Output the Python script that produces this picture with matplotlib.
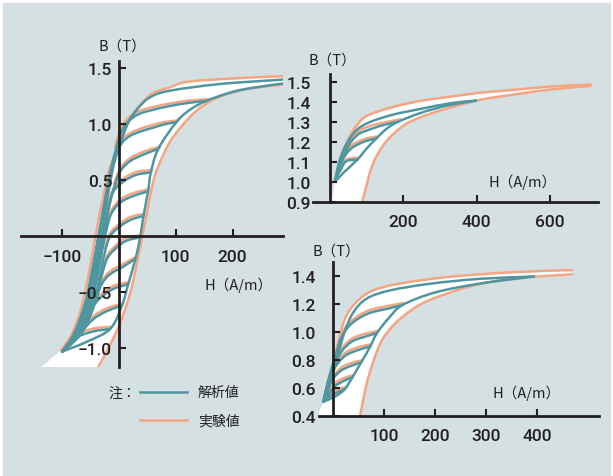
import numpy as np
import matplotlib.pyplot as plt
from matplotlib.lines import Line2D
from matplotlib.patches import Rectangle, PathPatch
from matplotlib.path import Path

plt.rcParams['font.family'] = ['Roboto', 'Noto Sans CJK JP']
plt.rcParams['axes.unicode_minus'] = True

W, HP = 613, 477
teal = '#4e96a0'
orange = '#f5a582'
ink = '#231f20'
bg = '#d5e0e2'
cjk = ['Noto Sans CJK JP', 'DejaVu Sans']

################################################################################
# Main loop (left) : H [A/m], B [T]
main_exp_desc_H = [289, 200, 120, 89, 60, 40, 22, 8, -4, -18, -28, -38, -45, -52, -60, -70, -82, -93, -103]
main_exp_desc_B = [1.43, 1.41, 1.38, 1.33, 1.28, 1.19, 1.07, 0.93, 0.78, 0.58, 0.35, 0.10, -0.10, -0.30, -0.50, -0.70, -0.86, -0.96, -1.02]
main_exp_asc_H = [-37, -24, -12, 0, 10, 20, 29, 35, 41, 48, 55, 63, 72, 89, 113, 136, 162, 190, 230, 289]
main_exp_asc_B = [-1.17, -1.05, -0.93, -0.80, -0.66, -0.50, -0.30, -0.15, 0.0, 0.18, 0.37, 0.54, 0.66, 0.84, 1.0, 1.12, 1.21, 1.27, 1.32, 1.355]
main_fill_corner = (-137, -1.17)

main_ana_desc_H = [289, 177, 89, 54, 31, 16, 5, -7, -16, -24, -33, -40, -47, -55, -65, -78, -90, -100]
main_ana_desc_B = [1.40, 1.36, 1.30, 1.24, 1.13, 1.015, 0.87, 0.69, 0.54, 0.33, 0.08, -0.12, -0.33, -0.55, -0.74, -0.89, -0.98, -1.03]
main_ana_asc_H = [-100, -60, -16, 5, 16, 29, 37, 43, 51, 56, 69, 101, 125, 154, 200, 240, 289]
main_ana_asc_B = [-1.03, -0.95, -0.83, -0.62, -0.43, -0.20, -0.01, 0.18, 0.40, 0.57, 0.78, 1.02, 1.13, 1.21, 1.29, 1.33, 1.365]

# descending branches from each reversal point back to (-100, -1.03)
main_minor_H = [
    [154, 120, 89, 60, 34, 15, 3, -6, -15, -24, -33, -41, -49, -58, -71, -86, -100],
    [101, 80, 60, 37, 19, 6, -4, -12, -20, -28, -36, -44, -54, -68, -84, -100],
    [69, 43, 19, 2, -8, -16, -24, -32, -41, -51, -65, -82, -100],
    [56, 31, 8, -10, -19, -27, -34, -42, -51, -65, -82, -100],
    [51, 25, 2, -14, -23, -31, -39, -49, -63, -81, -100],
    [43, 22, 2, -16, -25, -33, -43, -58, -78, -100],
    [37, 13, -4, -20, -29, -38, -50, -68, -100],
    [29, 8, -16, -31, -41, -53, -70, -100],
    [16, -10, -33, -49, -62, -78, -100],
    [5, -22, -45, -66, -84, -100],
    [-16, -45, -74, -90, -100],
]
main_minor_B = [
    [1.21, 1.19, 1.163, 1.13, 1.09, 1.02, 0.92, 0.77, 0.58, 0.35, 0.10, -0.12, -0.34, -0.56, -0.77, -0.93, -1.03],
    [1.02, 1.0, 0.97, 0.935, 0.896, 0.84, 0.75, 0.58, 0.36, 0.11, -0.12, -0.34, -0.57, -0.78, -0.93, -1.03],
    [0.78, 0.73, 0.67, 0.58, 0.45, 0.30, 0.10, -0.12, -0.35, -0.57, -0.78, -0.93, -1.03],
    [0.57, 0.55, 0.49, 0.40, 0.25, 0.05, -0.14, -0.36, -0.58, -0.79, -0.94, -1.03],
    [0.40, 0.36, 0.30, 0.20, 0.04, -0.16, -0.37, -0.59, -0.79, -0.94, -1.03],
    [0.18, 0.15, 0.09, 0.0, -0.14, -0.33, -0.56, -0.78, -0.93, -1.03],
    [-0.01, -0.04, -0.10, -0.19, -0.32, -0.50, -0.70, -0.88, -1.03],
    [-0.20, -0.27, -0.34, -0.43, -0.57, -0.73, -0.88, -1.03],
    [-0.43, -0.47, -0.55, -0.65, -0.78, -0.91, -1.03],
    [-0.62, -0.67, -0.74, -0.85, -0.95, -1.03],
    [-0.83, -0.85, -0.90, -0.96, -1.03],
]
main_exp_minor_H = [
    [158, 120, 89, 60, 34, 15, 2, -7],
    [104, 80, 60, 37, 19, 5, -5],
    [72, 43, 19, 2, -9],
    [58, 31, 8, -10, -20],
    [53, 25, 2, -14, -23],
    [45, 22, 2, -16, -25],
    [39, 13, -4, -20, -30],
    [31, 8, -16, -31, -42],
    [18, -10, -33, -49, -63],
    [7, -22, -45, -66, -84],
    [-14, -45, -74, -95],
]
main_exp_minor_B = [
    [1.225, 1.21, 1.185, 1.155, 1.115, 1.05, 0.95, 0.80],
    [1.035, 1.02, 0.995, 0.96, 0.92, 0.865, 0.77],
    [0.80, 0.755, 0.695, 0.605, 0.47],
    [0.59, 0.575, 0.515, 0.425, 0.27],
    [0.42, 0.385, 0.325, 0.225, 0.065],
    [0.20, 0.175, 0.115, 0.025, -0.115],
    [0.01, -0.015, -0.075, -0.165, -0.295],
    [-0.18, -0.245, -0.315, -0.405, -0.545],
    [-0.41, -0.445, -0.525, -0.625, -0.755],
    [-0.60, -0.645, -0.715, -0.825, -0.925],
    [-0.81, -0.825, -0.875, -0.965],
]

################################################################################
# Upper right loop
tr_exp_desc_H = [711, 600, 480, 412, 330, 250, 186, 130, 93, 65, 46, 28, 14]
tr_exp_desc_B = [1.485, 1.475, 1.455, 1.445, 1.425, 1.405, 1.38, 1.35, 1.32, 1.26, 1.195, 1.10, 1.0]
tr_exp_asc_H = [88, 100, 108, 120, 131, 147, 163, 190, 219, 274, 329, 412, 500, 597, 711]
tr_exp_asc_B = [0.90, 0.98, 1.04, 1.10, 1.14, 1.185, 1.22, 1.265, 1.30, 1.34, 1.37, 1.41, 1.435, 1.46, 1.478]
tr_fill_corner = (5, 0.9)

tr_ana_desc_H = [398, 329, 246, 172, 108, 71, 43, 25, 14]
tr_ana_desc_B = [1.405, 1.392, 1.363, 1.335, 1.297, 1.255, 1.18, 1.097, 1.0]
tr_ana_asc_H = [14, 40, 75, 100, 126, 155, 187, 250, 320, 398]
tr_ana_asc_B = [1.0, 1.05, 1.11, 1.165, 1.215, 1.265, 1.30, 1.345, 1.38, 1.405]

tr_minor_H = [
    [187, 150, 126, 100, 80, 60, 48, 35, 25, 14],
    [126, 105, 89, 70, 57, 45, 34, 22, 14],
    [75, 60, 48, 38, 30, 20, 14],
]
tr_minor_B = [
    [1.30, 1.285, 1.272, 1.255, 1.24, 1.205, 1.17, 1.12, 1.08, 1.0],
    [1.215, 1.207, 1.197, 1.18, 1.164, 1.14, 1.105, 1.05, 1.0],
    [1.11, 1.108, 1.105, 1.09, 1.06, 1.03, 1.0],
]
tr_exp_minor_H = [
    [192, 160, 126, 100, 80, 60, 45, 30],
    [128, 105, 89, 70, 57, 45, 34],
    [77, 62, 48, 38, 30],
]
tr_exp_minor_B = [
    [1.312, 1.30, 1.287, 1.272, 1.255, 1.218, 1.168, 1.10],
    [1.225, 1.218, 1.21, 1.194, 1.178, 1.155, 1.12],
    [1.12, 1.118, 1.113, 1.098, 1.076],
]

################################################################################
# Lower right loop
br_exp_desc_H = [469, 354, 223, 125, 79, 53, 30, 17, 7, -3, -12, -19]
br_exp_desc_B = [1.44, 1.425, 1.39, 1.34, 1.295, 1.237, 1.14, 1.025, 0.87, 0.71, 0.565, 0.50]
br_exp_asc_H = [53, 60, 66, 73, 84, 96, 112, 128, 150, 174, 210, 276, 354, 469]
br_exp_asc_B = [0.40, 0.53, 0.63, 0.72, 0.84, 0.94, 1.02, 1.08, 1.145, 1.20, 1.255, 1.33, 1.38, 1.41]
br_fill_corner = (-31, 0.4)

br_ana_desc_H = [394, 289, 191, 112, 66, 40, 24, 10.5, -3, -12, -19]
br_ana_desc_B = [1.394, 1.378, 1.343, 1.295, 1.237, 1.14, 1.013, 0.85, 0.66, 0.56, 0.50]
br_ana_asc_H = [-19, 5, 23, 38, 55, 73, 86, 110, 136, 200, 290, 394]
br_ana_asc_B = [0.50, 0.54, 0.59, 0.675, 0.78, 0.895, 0.99, 1.10, 1.19, 1.28, 1.345, 1.394]

br_minor_H = [
    [136, 109, 69, 37, 17, 4, -9, -19],
    [86, 63, 37, 17, 1, -12, -19],
    [73, 50, 27, 10, -6, -19],
    [55, 33, 14, -3, -19],
    [38, 20, 4, -9, -19],
    [23, 7, -6, -19],
]
br_minor_B = [
    [1.19, 1.166, 1.13, 1.06, 0.965, 0.82, 0.66, 0.50],
    [0.99, 0.965, 0.93, 0.86, 0.75, 0.61, 0.50],
    [0.895, 0.87, 0.836, 0.777, 0.68, 0.50],
    [0.78, 0.753, 0.718, 0.647, 0.50],
    [0.675, 0.647, 0.612, 0.553, 0.50],
    [0.59, 0.565, 0.54, 0.50],
]
br_exp_minor_H = [
    [138, 109, 69, 37, 17, 4],
    [88, 63, 37, 17, 1],
    [75, 50, 27, 10, -4],
    [57, 33, 14, -2],
    [40, 20, 4, -8],
    [25, 7, -6],
]
br_exp_minor_B = [
    [1.205, 1.185, 1.15, 1.08, 0.985, 0.84],
    [1.005, 0.985, 0.95, 0.88, 0.77],
    [0.91, 0.89, 0.856, 0.797, 0.70],
    [0.795, 0.773, 0.738, 0.667],
    [0.69, 0.667, 0.632, 0.573],
    [0.605, 0.585, 0.56],
]


def curve_path(h, b):
    # cubic Bezier through every point (Catmull-Rom tangents)
    p = np.column_stack([h, b]).astype(float)
    n = len(p)
    verts = [p[0]]
    codes = [Path.MOVETO]
    for i in range(n - 1):
        p0 = p[i - 1] if i > 0 else p[i]
        p3 = p[i + 2] if i + 2 < n else p[i + 1]
        c1 = p[i] + (p[i + 1] - p0) / 6
        c2 = p[i + 1] - (p3 - p[i]) / 6
        verts += [c1, c2, p[i + 1]]
        codes += [Path.CURVE4] * 3
    return verts, codes


def draw_curve(ax, h, b, color, z):
    verts, codes = curve_path(h, b)
    ax.add_patch(PathPatch(Path(verts, codes), fill=False, edgecolor=color, lw=1.8,
                           capstyle='round', joinstyle='round', zorder=z))


def add_axes(fig, left, top, right, bottom):
    return fig.add_axes([left / W, 1 - bottom / HP, (right - left) / W, (bottom - top) / HP])


def draw_loop(ax, exp_desc, exp_asc, corner, exp_minor, ana_desc, ana_asc, ana_minor):
    v1, c1 = curve_path(*exp_desc)
    v2, c2 = curve_path(*exp_asc)
    verts = v1 + [corner] + v2 + [v1[0]]
    codes = c1 + [Path.LINETO] + [Path.LINETO] + c2[1:] + [Path.CLOSEPOLY]
    ax.add_patch(PathPatch(Path(verts, codes), facecolor='white', lw=0, zorder=1))
    draw_curve(ax, *exp_desc, orange, 2)
    draw_curve(ax, *exp_asc, orange, 2)
    for h, b in zip(*exp_minor):
        draw_curve(ax, h, b, orange, 2)
    draw_curve(ax, *ana_desc, teal, 2.2)
    draw_curve(ax, *ana_asc, teal, 2.2)
    for h, b in zip(*ana_minor):
        draw_curve(ax, h, b, teal, 2.2)


def style(ax, xlim, ylim, ybase, xt, xl, yt, yl, ypad):
    ax.set_xlim(xlim)
    ax.set_ylim(ylim)
    ax.patch.set_visible(False)
    ax.spines['top'].set_visible(False)
    ax.spines['right'].set_visible(False)
    ax.spines['left'].set_position(('data', 0))
    ax.spines['bottom'].set_position(('data', ybase))
    for s in ('left', 'bottom'):
        ax.spines[s].set_linewidth(2.0)
        ax.spines[s].set_color(ink)
    ax.set_xticks(xt, xl)
    ax.set_yticks(yt, yl)
    ax.tick_params(direction='in', length=5, width=1.5, color=ink,
                   labelsize=12.5, labelcolor=ink)
    ax.tick_params(axis='x', pad=9)
    ax.tick_params(axis='y', pad=ypad)
    for t in ax.get_xticklabels() + ax.get_yticklabels():
        t.set_fontweight('medium')
    ax.set_axisbelow(False)


fig = plt.figure(figsize=(W / 100, HP / 100), dpi=100)
fig.patches.append(Rectangle((3 / W, 1 / HP), 607 / W, 472 / HP, transform=fig.transFigure,
                             color=bg, zorder=-10))

ax1 = add_axes(fig, 21, 62, 283, 368)
draw_loop(ax1, (main_exp_desc_H, main_exp_desc_B), (main_exp_asc_H, main_exp_asc_B), main_fill_corner,
          (main_exp_minor_H, main_exp_minor_B), (main_ana_desc_H, main_ana_desc_B),
          (main_ana_asc_H, main_ana_asc_B), (main_minor_H, main_minor_B))
style(ax1, (-173, 289), (-1.169, 1.566), 0,
      [-100, 100, 200], ['−100', '100', '200'],
      [-1.0, -0.5, 0.5, 1.0, 1.5], ['−1.0', '−0.5', '0.5', '1.0', '1.5'], 5)

ax2 = add_axes(fig, 313, 75, 598, 202.7)
draw_loop(ax2, (tr_exp_desc_H, tr_exp_desc_B), (tr_exp_asc_H, tr_exp_asc_B), tr_fill_corner,
          (tr_exp_minor_H, tr_exp_minor_B), (tr_ana_desc_H, tr_ana_desc_B),
          (tr_ana_asc_H, tr_ana_asc_B), (tr_minor_H, tr_minor_B))
style(ax2, (-46, 731), (0.9, 1.538), 0.9,
      [200, 400, 600], ['200', '400', '600'],
      [0.9, 1.0, 1.1, 1.2, 1.3, 1.4, 1.5], ['0.9', '1.0', '1.1', '1.2', '1.3', '1.4', '1.5'], 13.5)

ax3 = add_axes(fig, 319, 262.7, 599, 416.7)
draw_loop(ax3, (br_exp_desc_H, br_exp_desc_B), (br_exp_asc_H, br_exp_asc_B), br_fill_corner,
          (br_exp_minor_H, br_exp_minor_B), (br_ana_desc_H, br_ana_desc_B),
          (br_ana_asc_H, br_ana_asc_B), (br_minor_H, br_minor_B))
style(ax3, (-27.7, 522), (0.4, 1.5), 0.4,
      [100, 200, 300, 400], ['100', '200', '300', '400'],
      [0.4, 0.6, 0.8, 1.0, 1.2, 1.4], ['0.4', '0.6', '0.8', '1.0', '1.2', '1.4'], 12.5)

# axis titles
for x, y, s in [(98, 47, 'B（T）'), (205, 285, 'H（A/m）'),
                (308, 61, 'B（T）'), (488, 182, 'H（A/m）'),
                (313, 252, 'B（T）'), (492, 393, 'H（A/m）')]:
    fig.text(x / W, 1 - y / HP, s, family=cjk, fontsize=10.5, color=ink, ha='left', va='center')

# legend
fig.text(108 / W, 1 - 394 / HP, '注：', family=cjk, fontsize=10, color=ink, ha='left', va='center')
fig.add_artist(Line2D([140 / W, 187 / W], [1 - 393.3 / HP] * 2, color=teal, lw=1.8,
                      transform=fig.transFigure))
fig.add_artist(Line2D([140 / W, 187 / W], [1 - 420.7 / HP] * 2, color=orange, lw=1.8,
                      transform=fig.transFigure))
fig.text(198 / W, 1 - 393 / HP, '解析値', family=cjk, fontsize=10, color=ink, ha='left', va='center')
fig.text(198 / W, 1 - 421 / HP, '実験値', family=cjk, fontsize=10, color=ink, ha='left', va='center')

fig.savefig('out.png', dpi=100, facecolor='white')
